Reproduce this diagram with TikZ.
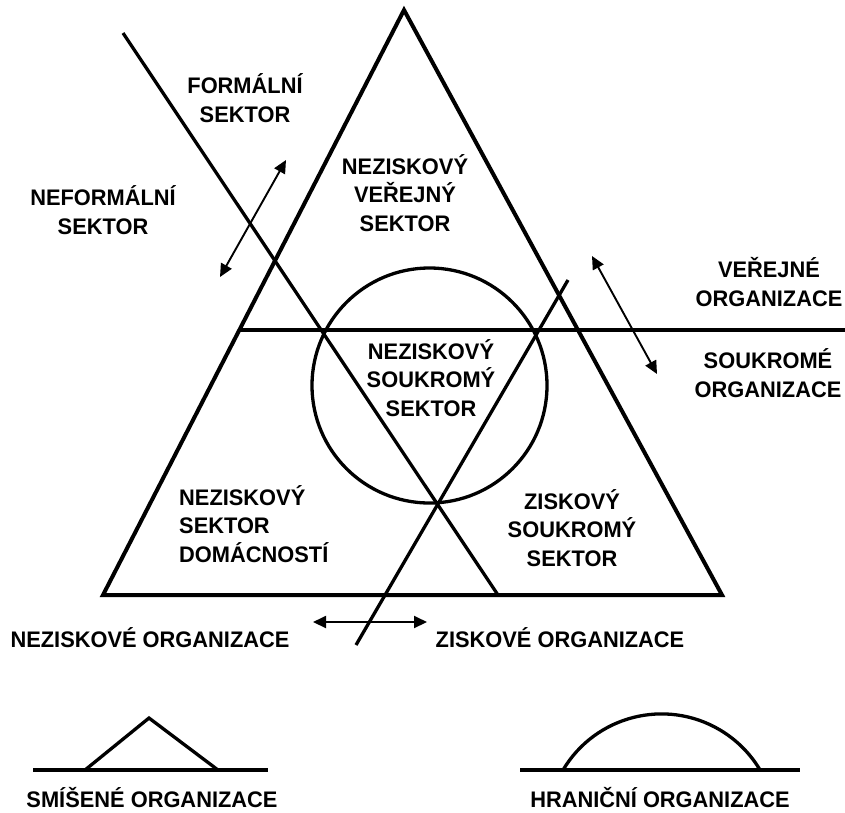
\documentclass[tikz,border=0pt]{standalone}
\usepackage{fontspec}
\setmainfont{Liberation Sans}
\newfontfamily\lblfont{Liberation Sans}[FakeStretch=0.97]
\usetikzlibrary{arrows.meta}
\begin{document}
\begin{tikzpicture}[x=1pt,y=-1pt,
  lbl/.style={font=\lblfont\fontsize{22.5}{28.5}\selectfont\bfseries, inner sep=0pt, align=center},
  thick line/.style={line width=4pt, line join=miter},
  main line/.style={line width=3.3pt},
  dbl arrow/.style={line width=1.9pt, {Triangle[length=13pt,width=12pt]}-{Triangle[length=13pt,width=12pt]}}]
\useasboundingbox (0,0) rectangle (845,812);
% triangle
\coordinate (apex) at (404,10);
\coordinate (bl) at (103,595);
\coordinate (br) at (722,595);
\draw[thick line] (apex) -- (bl) -- (br) -- cycle;
% horizontal divider
\coordinate (hl) at (239.5,330);
\coordinate (hr) at (845,330);
\draw[main line] (hl) -- (hr);
% circle
\node[draw, circle, line width=3.3pt, minimum size=235pt, inner sep=0pt] (circ) at (429.5,385.5) {};
% diagonal lines
\coordinate (d1a) at (123,33);
\coordinate (d1b) at (498,595);
\draw[main line] (d1a) -- (d1b);
\coordinate (d2a) at (568,280);
\coordinate (d2b) at (356,645);
\draw[main line] (d2a) -- (d2b);
% arrows
\coordinate (a1a) at (220,277);
\coordinate (a1b) at (286,160);
\draw[dbl arrow] (a1a) -- (a1b);
\coordinate (a2a) at (592,256);
\coordinate (a2b) at (657,374);
\draw[dbl arrow] (a2a) -- (a2b);
\coordinate (a3a) at (313,622);
\coordinate (a3b) at (427,622);
\draw[dbl arrow] (a3a) -- (a3b);
% labels
\node[lbl] (formal) at (245,98) {FORMÁLNÍ\\SEKTOR};
\node[lbl] (neformal) at (103,210) {NEFORMÁLNÍ\\SEKTOR};
\node[lbl] (nvs) at (405,193) {NEZISKOVÝ\\VEŘEJNÝ\\SEKTOR};
\node[lbl] (nss) at (431,378) {NEZISKOVÝ\\SOUKROMÝ\\SEKTOR};
\node[lbl, align=left, anchor=west] (nsd) at (179,524) {NEZISKOVÝ\\SEKTOR\\DOMÁCNOSTÍ};
\node[lbl] (zss) at (572,528) {ZISKOVÝ\\SOUKROMÝ\\SEKTOR};
\node[lbl] (vo) at (769,282) {VEŘEJNÉ\\ORGANIZACE};
\node[lbl] (so) at (768,373) {SOUKROMÉ\\ORGANIZACE};
\node[lbl, anchor=base] (no) at (150,647) {NEZISKOVÉ ORGANIZACE};
\node[lbl, anchor=base] (zo) at (560,647) {ZISKOVÉ ORGANIZACE};
% bottom symbols
\coordinate (l1) at (33,770);
\coordinate (l2) at (268,770);
\draw[thick line] (l1) -- (l2);
\coordinate (t1) at (85,770);
\coordinate (t2) at (149,718);
\coordinate (t3) at (218,770);
\draw[main line] (t1) -- (t2) -- (t3);
\coordinate (r1) at (520,770);
\coordinate (r2) at (800,770);
\draw[thick line] (r1) -- (r2);
\coordinate (ar) at (563,770);
\draw[main line] (ar) arc[start angle=-149.3, end angle=-30.7, radius=114.6];
\node[lbl, anchor=base] (smo) at (152,807) {SMÍŠENÉ ORGANIZACE};
\node[lbl, anchor=base] (hro) at (660,807) {HRANIČNÍ ORGANIZACE};
\end{tikzpicture}
\end{document}
